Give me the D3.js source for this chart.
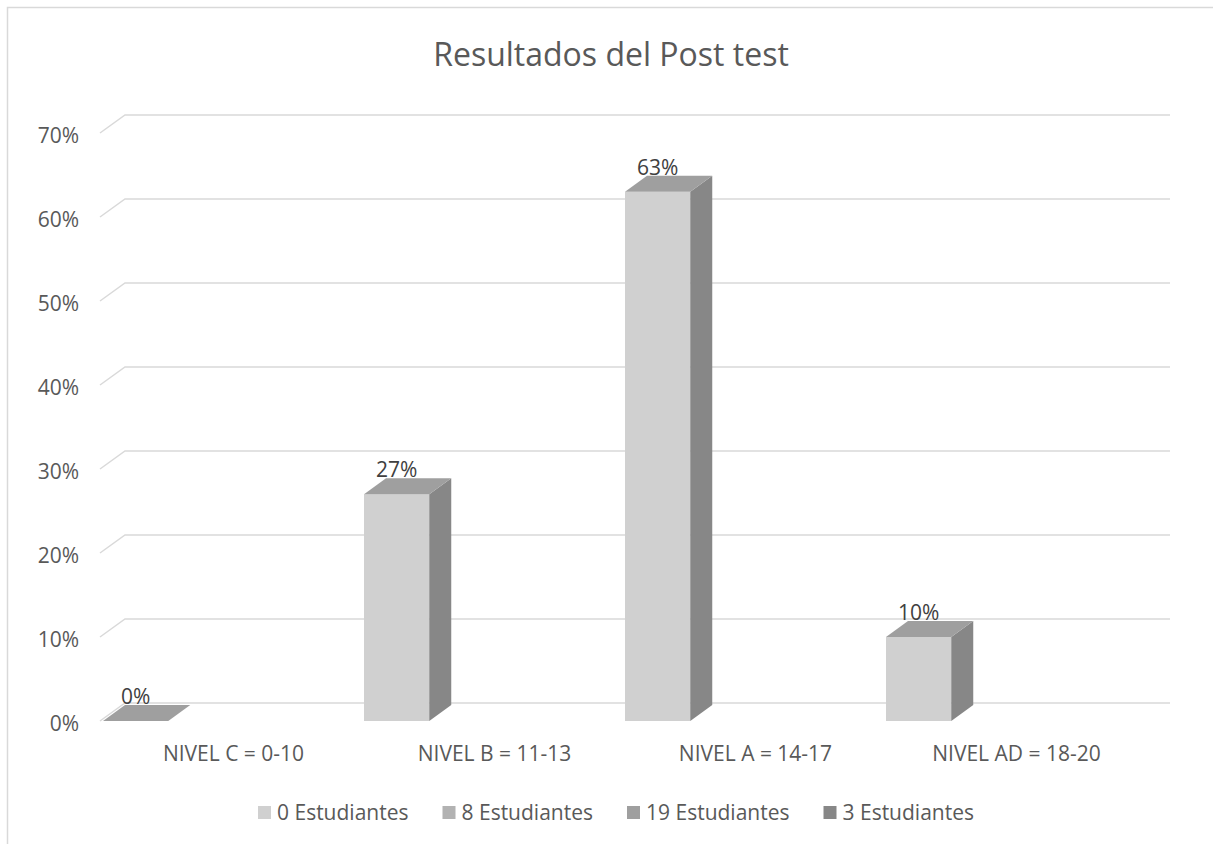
<!DOCTYPE html>
<html>
<head>
<meta charset="utf-8">
<script src="https://cdn.jsdelivr.net/npm/d3@7"></script>
<style>
  body { margin: 0; background: #fff; }
  text { font-family: 'Open Sans', sans-serif; }
</style>
</head>
<body>
<div id="chart"></div>
<script>
/* globals d3 */

let categories = ['NIVEL C = 0-10', 'NIVEL B = 11-13', 'NIVEL A = 14-17', 'NIVEL AD = 18-20']
let values = [0, 0.27, 0.63, 0.10]
let valueLabels = ['0%', '27%', '63%', '10%']
let seriesNames = ['0 Estudiantes', '8 Estudiantes', '19 Estudiantes', '3 Estudiantes']
let seriesColors = ['#d0d0d0', '#b2b2b2', '#9f9f9f', '#878787']
let yTicks = [0, 0.1, 0.2, 0.3, 0.4, 0.5, 0.6, 0.7]

let width = 1213
let height = 844

// oblique offsets for the 3d look
let wall = { dx: 25, dy: -18 }
let depth = { dx: 22, dy: -16 }

let x = d3.scaleBand().domain(categories).range([103, 1147]).padding(0)
let y = d3.scaleLinear().domain([0, 0.7]).range([721, 133])
let fmt = d3.format('.0%')

function main () {
  let svg = d3.select('#chart').append('svg').attr('width', width).attr('height', height)

  svg.append('rect')
      .attr('x', 7.5).attr('y', 7.5)
      .attr('width', 1230).attr('height', 900)
      .attr('fill', '#fff').attr('stroke', '#d9d9d9').attr('stroke-width', 1.5)

  svg.append('text')
      .attr('x', 611).attr('y', 66)
      .attr('text-anchor', 'middle')
      .attr('font-size', 32)
      .attr('fill', '#595959')
      .text('Resultados del Post test')

  drawGrid(svg)
  drawBars(svg)
  drawLegend(svg)
}

function drawGrid (svg) {
  let g = svg.append('g').attr('class', 'grid')
  let left = 100
  let right = 1170

  g.selectAll('path')
      .data(yTicks)
      .enter().append('path')
        .attr('d', (d) => `M${left},${y(d)}L${left + wall.dx},${y(d) + wall.dy}L${right},${y(d) + wall.dy}`)
        .attr('fill', 'none')
        .attr('stroke', '#d9d9d9')
        .attr('stroke-width', 1.5)

  g.selectAll('text')
      .data(yTicks)
      .enter().append('text')
        .attr('x', 79)
        .attr('y', (d) => y(d) + 9.5)
        .attr('text-anchor', 'end')
        .attr('font-size', 21)
        .attr('fill', '#595959')
        .text((d) => fmt(d))

  svg.append('g').selectAll('text')
      .data(categories)
      .enter().append('text')
        .attr('x', (d) => x(d) + x.bandwidth() / 2)
        .attr('y', 761)
        .attr('text-anchor', 'middle')
        .attr('font-size', 21)
        .attr('fill', '#595959')
        .text((d) => d)
}

function drawBars (svg) {
  let bw = x.bandwidth() / 4
  let data = categories.map((c, i) => ({ cat: c, value: values[i], label: valueLabels[i] }))
  let bar = svg.append('g').selectAll('g')
      .data(data)
      .enter().append('g')

  let base = y(0)

  bar.filter((d) => d.value > 0).append('rect')
      .attr('x', (d) => x(d.cat))
      .attr('y', (d) => y(d.value))
      .attr('width', bw)
      .attr('height', (d) => base - y(d.value))
      .attr('fill', '#d0d0d0')

  bar.filter((d) => d.value > 0).append('path')
      .attr('d', (d) => {
        let x1 = x(d.cat) + bw
        let top = y(d.value)
        return `M${x1},${top}L${x1 + depth.dx},${top + depth.dy}L${x1 + depth.dx},${base + depth.dy}L${x1},${base}Z`
      })
      .attr('fill', '#878787')

  bar.append('path')
      .attr('d', (d) => {
        let x0 = x(d.cat)
        let top = y(d.value)
        return `M${x0},${top}L${x0 + depth.dx},${top + depth.dy}L${x0 + bw + depth.dx},${top + depth.dy}L${x0 + bw},${top}Z`
      })
      .attr('fill', '#9f9f9f')

  bar.append('text')
      .attr('x', (d) => x(d.cat) + bw / 2)
      .attr('y', (d) => y(d.value) + depth.dy - 1)
      .attr('text-anchor', 'middle')
      .attr('font-size', 21)
      .attr('fill', '#404040')
      .text((d) => d.label)
}

function drawLegend (svg) {
  let g = svg.append('g').attr('class', 'legend')
  let items = g.selectAll('g')
      .data(seriesNames)
      .enter().append('g')

  items.append('rect')
      .attr('width', 13).attr('height', 13)
      .attr('y', 806)
      .attr('fill', (d, i) => seriesColors[i])

  items.append('text')
      .attr('x', 19)
      .attr('y', 820)
      .attr('font-size', 21)
      .attr('fill', '#595959')
      .text((d) => d)

  // lay the items out in one centred row
  let pos = 0
  let offsets = []
  items.each(function () {
    let w = d3.select(this).select('text').node().getComputedTextLength()
    offsets.push(pos)
    pos += 19 + w + 34
  })
  let total = pos - 34
  let start = 616 - total / 2
  items.attr('transform', (d, i) => `translate(${start + offsets[i]},0)`)
}

main()
</script>
</body>
</html>
